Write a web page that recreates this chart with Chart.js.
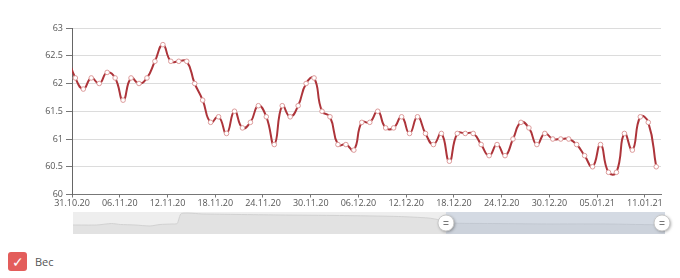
<!DOCTYPE html>
<html>
<head>
<meta charset="utf-8">
<script src="https://cdn.jsdelivr.net/npm/chart.js@4"></script>
<style>
  body { margin: 0; background: #fff; width: 680px; height: 278px; overflow: hidden; position: relative; font-family: "Open Sans", sans-serif; }
  #mainWrap { position: absolute; left: 0; top: 0; width: 680px; height: 212px; }
  #navWrap { position: absolute; left: 73px; top: 211px; width: 612px; height: 24px; }
  #legend { position: absolute; left: 8px; top: 252px; height: 19px; display: flex; align-items: center; }
  #legend .box { width: 19px; height: 19px; border-radius: 3px; background: #e35d5b; color: #fff; font-size: 14px; line-height: 19px; text-align: center; }
  #legend .txt { margin-left: 8px; font-size: 11px; color: #555; }
</style>
</head>
<body>
<div id="mainWrap"><canvas id="chart1" width="680" height="212"></canvas></div>
<div id="navWrap"><canvas id="chart2" width="612" height="24"></canvas></div>
<div id="legend"><div class="box">✓</div><div class="txt">Вес</div></div>
<script>
//weight, one reading a day (index 0 = 31.10.20), the one before is cut off by the axis
const weightBefore = 62.5
const weight = [
  62.1, 61.9, 62.1, 62.0, 62.2, 62.1, 61.7, 62.1, 62.0, 62.1, 62.4, 62.7,
  62.4, 62.4, 62.4, 62.0, 61.7, 61.3, 61.4, 61.1, 61.5, 61.2, 61.3, 61.6, 61.4,
  60.9, 61.6, 61.4, 61.6, 62.0, 62.1, 61.5, 61.4, 60.9, 60.9, 60.8, 61.3, 61.3,
  61.5, 61.2, 61.2, 61.4, 61.1, 61.4, 61.1, 60.9, 61.1, 60.6, 61.1, 61.1,
  61.1, 60.9, 60.7, 60.9, 60.7, 61.0, 61.3, 61.2, 60.9, 61.1, 61.0, 61.0, 61.0,
  60.9, 60.7, 60.5, 60.9, 60.4, 60.4, 61.1, 60.8, 61.4, 61.3, 60.5
];
//x tick labels, every 6 days
const tickLabels = ['31.10.20', '06.11.20', '12.11.20', '18.11.20', '24.11.20', '30.11.20',
  '06.12.20', '12.12.20', '18.12.20', '24.12.20', '30.12.20', '05.01.21', '11.01.21'];
const firstTick = -0.42   // readings are taken a bit after midnight
const tickStep = 6

//scrollbar preview (position in % of track, height in px)
const previewPos = [0, 4, 6.5, 8, 10.5, 13, 14.7, 16.7, 17.6, 18.3, 22, 35, 45, 55, 60, 62, 64, 70, 80, 90, 100];
const previewHeight = [9, 9, 10.5, 9.5, 9, 8, 9.5, 10, 10.5, 20.5, 20, 19, 18.5, 17.5, 16, 14, 11, 10.5, 10, 10, 9];
const selStart = 63   // % of track where the selected window starts

var pts = [{x: -1, y: weightBefore}];
for (var i = 0; i < weight.length; i++) {
  pts.push({x: i, y: weight[i]});
}

const labelFont = {family: 'Open Sans', size: 9};

const config = {
  type: 'line',
  data: {
    datasets: [{
      label: 'Вес',
      data: pts,
      borderColor: '#ad343a',
      borderWidth: 2,
      tension: 0.5,
      pointRadius: 2.3,
      pointBorderWidth: 1,
      pointBackgroundColor: '#fff',
      pointBorderColor: '#dc9a9a'
    }]
  },
  options: {
    responsive: false,
    animation: false,
    layout: {padding: {top: 28, right: 19, left: 0, bottom: 0}},
    plugins: {legend: {display: false}, tooltip: {enabled: false}},
    scales: {
      x: {
        type: 'linear',
        min: firstTick,
        max: 73.6,
        afterBuildTicks: function (scale) {
          scale.ticks = tickLabels.map(function (t, k) { return {value: firstTick + tickStep * k}; });
        },
        afterFit: function (scale) { scale.height = 17.5; },
        grid: {drawOnChartArea: false, drawTicks: true, tickLength: 3, tickColor: '#777'},
        border: {color: '#777', width: 1},
        ticks: {
          autoSkip: false,
          maxRotation: 0,
          padding: 1,
          color: '#555',
          font: labelFont,
          callback: function (v, idx) { return tickLabels[idx]; }
        }
      },
      y: {
        min: 60,
        max: 63,
        afterFit: function (scale) { scale.width = 72; },
        grid: {color: '#dcdcdc', tickLength: 6, tickColor: '#777'},
        border: {color: '#666', width: 1},
        ticks: {
          stepSize: 0.5, padding: 3, color: '#555', font: labelFont,
          callback: function (v) { return String(Math.round(v * 10) / 10); }
        }
      }
    }
  }
};

const chart1 = new Chart(document.getElementById('chart1'), config);

//scrollbar: track, selected window and grips
const trackW = 592;
const navDeco = {
  id: 'navDeco',
  beforeDatasetsDraw: function (chart) {
    var c = chart.ctx;
    c.save();
    c.fillStyle = '#eeeeee';
    c.fillRect(0, 1, trackW, 22);
    c.restore();
  },
  afterDatasetsDraw: function (chart) {
    var c = chart.ctx;
    var x0 = trackW * selStart / 100;
    c.save();
    c.fillStyle = 'rgba(160,180,205,0.33)';
    c.fillRect(x0, 1, trackW - x0, 22);
    [x0, trackW - 3].forEach(function (gx) {
      c.save();
      c.shadowColor = 'rgba(0,0,0,0.35)';
      c.shadowBlur = 3;
      c.shadowOffsetX = 1;
      c.shadowOffsetY = 1;
      c.beginPath();
      c.arc(gx, 12, 8, 0, Math.PI * 2);
      c.fillStyle = '#fff';
      c.fill();
      c.restore();
      c.strokeStyle = '#c8c8c8';
      c.lineWidth = 1;
      c.beginPath();
      c.arc(gx, 12, 8, 0, Math.PI * 2);
      c.stroke();
      c.strokeStyle = '#777';
      c.beginPath();
      c.moveTo(gx - 2.5, 10.5); c.lineTo(gx + 2.5, 10.5);
      c.moveTo(gx - 2.5, 13.5); c.lineTo(gx + 2.5, 13.5);
      c.stroke();
    });
    c.restore();
  }
};

var navPts = previewPos.map(function (p, k) { return {x: p, y: previewHeight[k]}; });

const chart2 = new Chart(document.getElementById('chart2'), {
  type: 'line',
  data: {
    datasets: [{
      data: navPts,
      borderColor: '#d2d2d2',
      borderWidth: 1,
      backgroundColor: '#e2e2e2',
      fill: 'start',
      pointRadius: 0,
      tension: 0.2
    }]
  },
  options: {
    responsive: false,
    animation: false,
    layout: {padding: {top: 1, bottom: 1, left: 0, right: 612 - trackW}},
    plugins: {legend: {display: false}, tooltip: {enabled: false}},
    scales: {
      x: {type: 'linear', display: false, min: 0, max: 100},
      y: {display: false, min: 0, max: 22}
    }
  },
  plugins: [navDeco]
});
</script>
</body>
</html>
